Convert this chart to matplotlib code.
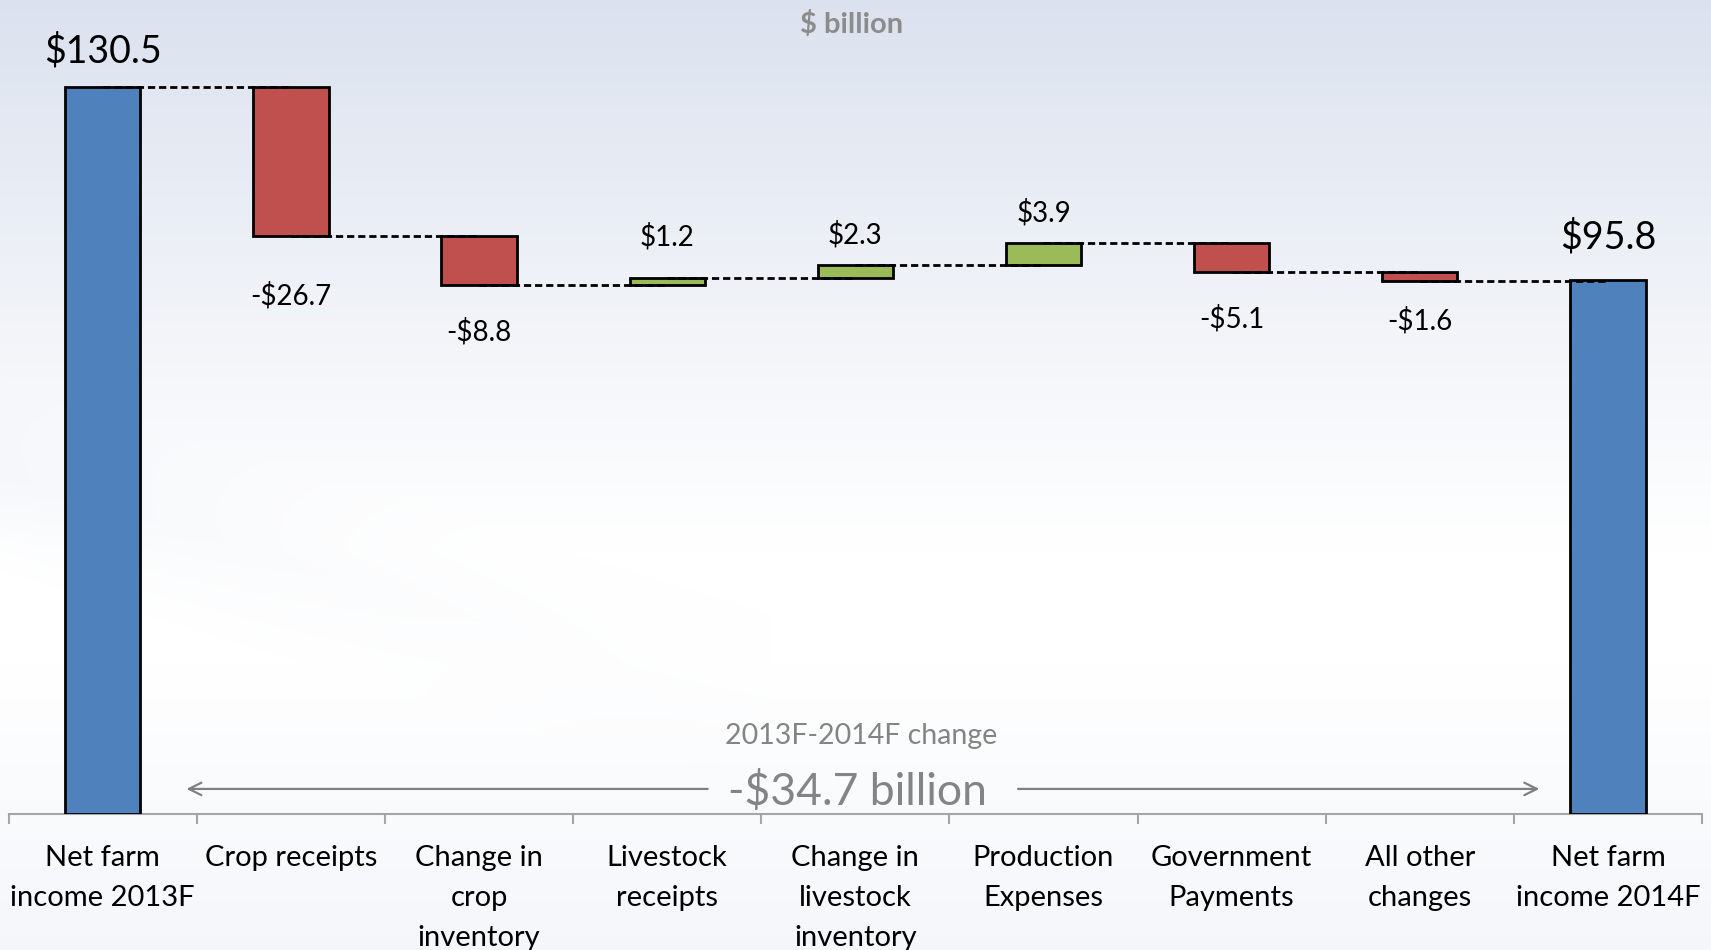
import numpy as np
import matplotlib
matplotlib.use("Agg")
import matplotlib.pyplot as plt

plt.rcParams["font.family"] = ["Lato", "DejaVu Sans"]

# ---- data -------------------------------------------------------------
categories = [
    "Net farm\nincome 2013F",
    "Crop receipts",
    "Change in\ncrop\ninventory",
    "Livestock\nreceipts",
    "Change in\nlivestock\ninventory",
    "Production\nExpenses",
    "Government\nPayments",
    "All other\nchanges",
    "Net farm\nincome 2014F",
]
start_total = 130.5
changes = [-26.7, -8.8, 1.2, 2.3, 3.9, -5.1, -1.6]
end_total = 95.8
total_change = -34.7
period_label = "2013F-2014F change"
unit_label = "$ billion"

# ---- styling ----------------------------------------------------------
BLUE, RED, GREEN = "#4f81bd", "#c0504d", "#9bbb59"
GREY_TEXT = "#848484"
# vertical offsets (points) of value labels from their bar ends
label_offsets_pt = [26, 43, 34, 30, 22, 22, 34, 29, 31]

W, H, DPI = 1711, 950, 100
fig = plt.figure(figsize=(W / DPI, H / DPI), dpi=DPI)

# background: bluish-grey wash at the top fading to white, faint tint at the bottom
bg = fig.add_axes([0, 0, 1, 1], zorder=-10)
ny, nx = 400, 720
yy, xx = np.mgrid[0:ny, 0:nx]
yb = 1 - yy / (ny - 1)          # 0 at bottom, 1 at top
xf = xx / (nx - 1)
top_col = np.array([0.860, 0.885, 0.935])
bot_col = np.array([0.925, 0.940, 0.968])
white = np.ones(3)
t_top = np.clip((yb - 0.42) / 0.58, 0, 1) ** 1.1
t_bot = np.clip((0.30 - yb) / 0.30, 0, 1) * 0.55
# soft diagonal sweep in the lower-left corner
sweep = np.clip(1 - np.abs((yb - 0.50 + 0.55 * xf)) / 0.10, 0, 1) * np.clip(1 - xf / 0.45, 0, 1) * 0.35
t_bot = np.clip(t_bot + sweep, 0, 1)
img = white * (1 - t_top[..., None]) + top_col * t_top[..., None]
img = img * (1 - t_bot[..., None]) + bot_col * t_bot[..., None]
bg.imshow(img, aspect="auto", extent=[0, 1, 0, 1], interpolation="bilinear")
bg.set_axis_off()

# ---- main axes --------------------------------------------------------
ax_left, ax_right = 8.7 / W, 1702 / W
ax_bottom = (H - 814) / H
ax = fig.add_axes([ax_left, ax_bottom, ax_right - ax_left, 1 - ax_bottom])
ax.set_facecolor("none")
n = len(categories)
ax.set_xlim(-0.5, n - 0.5)
ax.set_ylim(0, 146.1)

bar_w = 0.40
levels = [start_total]
bottoms, heights, colors, labels = [0], [start_total], [BLUE], [f"${start_total:.1f}"]
level = start_total
for c in changes:
    new = level + c
    bottoms.append(min(level, new))
    heights.append(abs(c))
    colors.append(RED if c < 0 else GREEN)
    labels.append(f"-${abs(c):.1f}" if c < 0 else f"${c:.1f}")
    level = new
    levels.append(level)
bottoms.append(0)
heights.append(end_total)
colors.append(BLUE)
labels.append(f"${end_total:.1f}")

x = np.arange(n)
ax.bar(x, heights, bottom=bottoms, width=bar_w, color=colors,
       edgecolor="black", linewidth=2.0, zorder=3)

# dashed connectors between consecutive bars
for i, lv in enumerate(levels):
    ax.plot([i, i + 1], [lv, lv], color="black", lw=2.0,
            linestyle=(0, (2.6, 1.4)), zorder=4)

# value labels
for i in range(n):
    is_total = i in (0, n - 1)
    if is_total:
        y_anchor, sign = heights[i], 1
    elif changes[i - 1] >= 0:
        y_anchor, sign = bottoms[i] + heights[i], 1
    else:
        y_anchor, sign = bottoms[i], -1
    ax.annotate(labels[i], (i, y_anchor), xytext=(0, sign * label_offsets_pt[i]),
                textcoords="offset points", ha="center", va="center",
                fontsize=27 if is_total else 20, color="black", zorder=5)

# axis styling
for s in ("top", "right", "left"):
    ax.spines[s].set_visible(False)
ax.spines["bottom"].set_color("#a6a6a6")
ax.spines["bottom"].set_linewidth(1.5)
ax.set_yticks([])
ax.set_xticks(x)
ax.set_xticklabels(categories, fontsize=21, linespacing=1.65)
ax.tick_params(axis="x", which="major", length=0, pad=22.5, colors="black")
ax.set_xticks(np.arange(-0.5, n, 1.0), minor=True)
ax.tick_params(axis="x", which="minor", length=7, width=1.5, color="#a6a6a6")

# unit caption
fig.text(852 / W, 1 - 24 / H, unit_label, ha="center", va="center",
         fontsize=21, fontweight="bold", color="#8c8c8c")

# overall change annotation with a two-headed arrow split around the text
ax.text(4.03, 14.0, period_label, ha="center", va="center", fontsize=20.5, color=GREY_TEXT)
ax.text(4.01, 3.9, f"-${abs(total_change):.1f} billion", ha="center", va="center",
        fontsize=32, color=GREY_TEXT)
arrow_kw = dict(arrowstyle="->,head_length=0.9,head_width=0.45", color="#808080", lw=1.6)
ax.annotate("", xy=(0.43, 4.5), xytext=(3.23, 4.5), arrowprops=arrow_kw)
ax.annotate("", xy=(7.65, 4.5), xytext=(4.85, 4.5), arrowprops=arrow_kw)

fig.savefig("out.png", dpi=DPI)
